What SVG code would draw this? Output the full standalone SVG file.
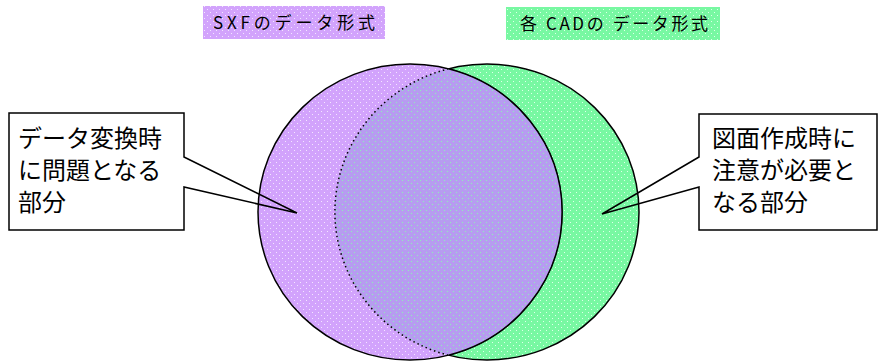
<svg xmlns="http://www.w3.org/2000/svg" width="879" height="363" viewBox="0 0 879 363">
<defs>
<pattern id="patP" width="6" height="6" patternUnits="userSpaceOnUse">
<rect width="6" height="6" fill="#D2A3FC"/>
<rect x="0" y="0" width="1" height="1" fill="#F3E6FF"/>
<rect x="3" y="3" width="1" height="1" fill="#F3E6FF"/>
</pattern>
<pattern id="patG" width="6" height="6" patternUnits="userSpaceOnUse">
<rect width="6" height="6" fill="#78F8A2"/>
<rect x="0" y="0" width="1" height="1" fill="#DFFFEA"/>
<rect x="3" y="3" width="1" height="1" fill="#DFFFEA"/>
</pattern>
<pattern id="patI" width="6" height="6" patternUnits="userSpaceOnUse">
<rect width="6" height="6" fill="#B69CF0"/>
<rect x="0" y="0" width="1" height="1" fill="#8EF0B8"/>
<rect x="3" y="3" width="1" height="1" fill="#8EF0B8"/>
</pattern>
<style>
.edge{stroke:#000;stroke-width:1.5;}
.lbl{font-family:"Noto Sans CJK JP","Noto Sans",sans-serif;font-size:17px;fill:#000;}
.txt{font-family:"Noto Sans CJK JP","Noto Sans",sans-serif;font-size:24px;fill:#000;}
.call{fill:none;stroke:#000;stroke-width:1.5;stroke-linejoin:miter;}
</style>
</defs>
<rect width="879" height="363" fill="#FFFFFF"/>

<g id="set-cad">
<ellipse cx="487" cy="212" rx="152" ry="148" fill="url(#patG)" class="edge"/>
</g>
<g id="set-sxf">
<ellipse cx="410" cy="212" rx="152" ry="148" fill="url(#patP)" class="edge"/>
</g>
<g id="overlap">
<path d="M448.5 68.8 A152 148 0 0 0 448.5 355.2 A152 148 0 0 0 448.5 68.8 Z" fill="url(#patI)"/>
<path d="M448.5 68.8 A152 148 0 0 0 448.5 355.2" fill="none" stroke="#000" stroke-width="1.5" stroke-dasharray="1.5 3"/>
<path d="M448.5 355.2 A152 148 0 0 0 448.5 68.8" fill="none" class="edge"/>
</g>

<g id="label-sxf">
<rect x="203" y="6" width="182" height="33" fill="url(#patP)"/>
<text class="lbl" x="213" y="29" textLength="162" lengthAdjust="spacing">SXFのデータ形式</text>
</g>
<g id="label-cad">
<rect x="506" y="7" width="214" height="33" fill="url(#patG)"/>
<text class="lbl" x="520" y="30" textLength="188" lengthAdjust="spacing">各 CADの データ形式</text>
</g>

<g id="connectors">
<path class="call" d="M184 157 L297 213 L184 187 L184 230 L9 230 L9 113 L184 113 Z"/>
<path class="call" d="M699 157 L602 214 L699 187 L699 230 L877 230 L877 114 L699 114 Z"/>
</g>

<g id="callout-left">
<text class="txt" x="18" y="147">データ変換時</text>
<text class="txt" x="18" y="179">に問題となる</text>
<text class="txt" x="18" y="211">部分</text>
</g>
<g id="callout-right">
<text class="txt" x="712" y="147">図面作成時に</text>
<text class="txt" x="712" y="179">注意が必要と</text>
<text class="txt" x="712" y="211">なる部分</text>
</g>
</svg>
